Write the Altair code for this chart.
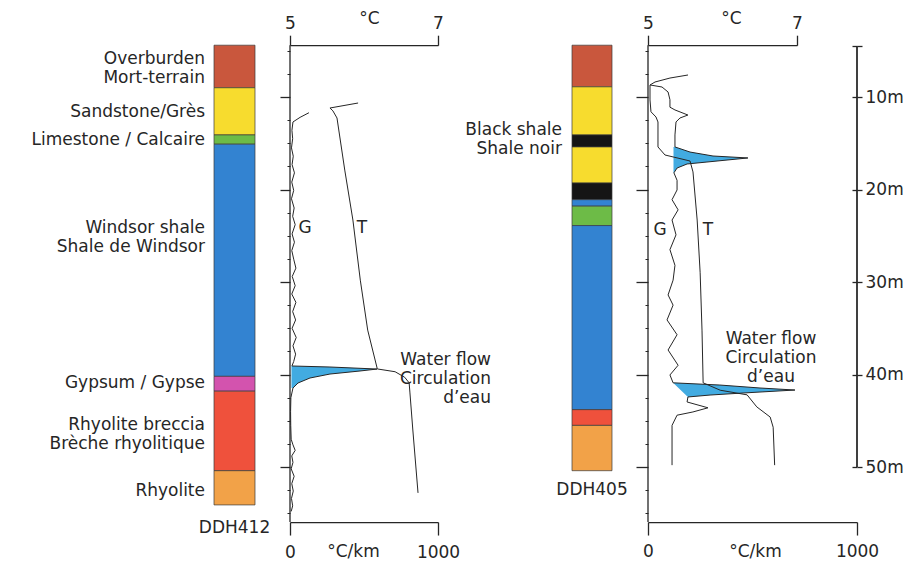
import altair as alt
import pandas as pd

W, H = 921, 562
FONT = "DejaVu Sans"
INK = "#262626"
FS = 17
BLUE = "#38a6df"

# ---------------- depth scale (m) shared by all layers ----------------
Y_DOMAIN = [0, 60]
Y_RANGE = [4.5, 559.5]
PANEL_TOP = 4.4
PANEL_BOTTOM = 55.95
MAJOR = [10, 20, 30, 40, 50]
MINOR = [5, 7.5, 12.5, 15, 17.5, 22.5, 25, 27.5, 32.5, 35, 37.5, 42.5, 45, 47.5, 52.5, 55]
SCALE_TOP = 4.5
SCALE_BOTTOM = 50

# ---------------- lithology ----------------
UNITS = ["Overburden", "Sandstone", "Limestone", "Windsor shale", "Gypsum",
         "Rhyolite breccia", "Rhyolite", "Black shale"]
UNIT_COLORS = ["#c9573d", "#f7dc2e", "#6dbb47", "#3383d1", "#d353ae",
               "#ef513c", "#f2a248", "#151515"]

L_UNIT = ["Overburden", "Sandstone", "Limestone", "Windsor shale", "Gypsum",
          "Rhyolite breccia", "Rhyolite"]
L_TOP = [4.4, 9.0, 14.1, 15.1, 40.2, 41.8, 50.4]
L_BOT = [9.0, 14.1, 15.1, 40.2, 41.8, 50.4, 54.1]

R_UNIT = ["Overburden", "Sandstone", "Black shale", "Sandstone", "Black shale",
          "Windsor shale", "Limestone", "Windsor shale", "Rhyolite breccia", "Rhyolite"]
R_TOP = [4.4, 8.9, 14.1, 15.4, 19.3, 21.1, 21.8, 23.9, 43.8, 45.5]
R_BOT = [8.9, 14.1, 15.4, 19.3, 21.1, 21.8, 23.9, 43.8, 45.5, 50.4]

# label depths are the depth of the first text line
L_LABELS = ["Overburden\nMort-terrain", "Sandstone/Grès", "Limestone / Calcaire",
            "Windsor shale\nShale de Windsor", "Gypsum / Gypse",
            "Rhyolite breccia\nBrèche rhyolitique", "Rhyolite"]
L_LABEL_DEPTH = [5.9, 11.6, 14.65, 24.15, 40.9, 45.45, 52.6]
R_LABELS = ["Black shale\nShale noir"]
R_LABEL_DEPTH = [13.6]
WELLS = ["DDH412", "DDH405"]
WELL_LABEL_DEPTH = [56.6, 52.5]
FLOW_LABEL = "Water flow\nCirculation\nd’eau"
FLOW_DEPTH = [38.45, 36.15]
GT_LABEL_DEPTH = [24.2, 24.4]

# ---------------- DDH412 profiles ----------------
LT_DEPTH = [10.65, 11.19, 11.5, 12.27, 17.9, 23.3, 29.8, 35.2, 39.4, 39.7, 40.3, 40.9, 41.9, 46.0, 52.8]
LT_TEMP = [5.92, 5.54, 5.58, 5.635, 5.74, 5.85, 5.95, 6.05, 6.18, 6.42, 6.55, 6.61, 6.62, 6.66, 6.73]

LG_UP_DEPTH = [11.7, 12.2, 12.7, 13.6, 14.5, 15.5, 16.4, 17.3, 18.2, 19.2, 20.1, 21.0, 22.0, 22.9,
               23.8, 24.8, 25.7, 26.6, 27.6, 28.5, 29.4, 30.4, 31.3, 32.2, 33.2, 34.1, 35.0, 36.0,
               36.9, 37.8, 38.6]
LG_UP_GRAD = [128, 68, 20, 13, 18, 10, 22, 14, 30, 12, 25, 10, 28, 18,
              35, 14, 30, 12, 26, 40, 15, 35, 12, 40, 18, 38, 14, 42,
              20, 38, 25]
LG_SPIKE_DEPTH = [39.08, 39.19, 39.41, 39.62, 39.95, 40.38, 40.92, 41.46]
LG_SPIKE_GRAD = [13, 270, 588, 473, 270, 135, 54, 20]
LG_SPIKE_BASE = [10, 10, 10, 10, 10, 10, 10, 10]
LG_LOW_DEPTH = [42.5, 44.0, 45.5, 47.0, 47.6, 48.2, 48.8, 49.5, 50.2, 51.0, 51.8, 52.6, 53.4, 54.2, 54.8]
LG_LOW_GRAD = [6, 4, 5, 8, 20, 35, 12, 20, 8, 28, 12, 22, 10, 18, 8]

# ---------------- DDH405 profiles ----------------
RT_DEPTH = [7.62, 7.95, 8.38, 8.70, 10.32, 11.6, 12.16, 12.7, 15.4, 16.27, 16.92, 18.1, 23.3,
            29.0, 35.2, 40.9, 41.7, 42.2, 43.5, 44.6, 45.7, 49.8]
RT_TEMP = [5.537, 5.295, 5.094, 5.027, 5.027, 5.04, 5.107, 5.134, 5.134, 5.228, 5.564, 5.604, 5.66,
           5.70, 5.725, 5.74, 5.97, 6.33, 6.46, 6.64, 6.68, 6.70]

RG_UP_DEPTH = [8.70, 8.92, 9.46, 10.3, 11.1, 11.4, 11.95, 12.27, 12.7, 14.1]
RG_UP_GRAD = [10, 67, 96, 105, 105, 129, 191, 153, 134, 129]
RG_S1_DEPTH = [15.4, 15.95, 16.38, 16.59, 17.03, 17.24, 17.68, 18.2]
RG_S1_GRAD = [129, 201, 311, 478, 282, 187, 139, 124]
RG_S1_BASE = [122, 122, 122, 122, 122, 122, 122, 122]
RG_MID_DEPTH = [19.0, 20.05, 21.1, 22.2, 23.3, 24.9, 26.5, 28.2, 29.8, 31.4, 32.5, 34.1, 35.7,
                37.35, 39.0, 40.05]
RG_MID_GRAD = [139, 139, 115, 144, 115, 134, 105, 129, 120, 96, 120, 91, 139, 96, 144, 105]
RG_S2_DEPTH = [40.9, 41.14, 41.46, 41.68, 42.0, 42.22, 42.43]
RG_S2_GRAD = [120, 344, 536, 703, 455, 297, 191]
RG_S2_BASE = [120, 131, 146, 156, 171, 181, 191]
RG_LOW_DEPTH = [42.97, 43.6, 44.05, 44.4, 45.5, 49.8]
RG_LOW_GRAD = [187, 287, 215, 139, 115, 115]

# ---------------- layout (pixels) ----------------
L_COL = (214, 255)
R_COL = (572, 612)
L_AX = 290
R_AX = 648
L_T_RANGE = [290, 438]
L_G_RANGE = [290, 438]
R_T_RANGE = [648, 797]
R_G_RANGE = [648, 857]
SCALE_X = 857


def ypx(d):
    return Y_RANGE[0] + (Y_RANGE[1] - Y_RANGE[0]) * (d - Y_DOMAIN[0]) / (Y_DOMAIN[1] - Y_DOMAIN[0])


TOP_OFF = -ypx(PANEL_TOP)
BOT_OFF = ypx(PANEL_BOTTOM) - H


def ys(axis=None, field="depth"):
    return alt.Y(f"{field}:Q", scale=alt.Scale(domain=Y_DOMAIN, range=Y_RANGE, nice=False, zero=False),
                 axis=axis)


def tick_axis(orient, offset, values, size, width=1.3, labels=False):
    kw = dict(orient=orient, offset=offset, values=values, tickSize=size, tickWidth=width,
              tickColor=INK, labels=labels, domain=False, grid=False, title=None)
    if labels:
        kw.update(labelExpr="datum.value >= 10 ? datum.value + 'm' : ''", labelFont=FONT,
                  labelFontSize=FS, labelColor=INK, labelPadding=3, labelBaseline="middle")
    return alt.Axis(**kw)


def x_axis(orient, offset, values, title, title_x, title_y, tick, label_pad):
    return alt.Axis(orient=orient, offset=offset, values=values, title=title, titleX=title_x,
                    titleY=title_y, titleBaseline="alphabetic", titleAlign="center",
                    titleFont=FONT, titleFontSize=FS, titleFontWeight="normal", titleColor=INK,
                    tickSize=tick, tickWidth=1.3, tickColor=INK, domainColor=INK, domainWidth=1.3,
                    labelFont=FONT, labelFontSize=FS, labelColor=INK, labelFlush=False,
                    labelBaseline="alphabetic", labelPadding=label_pad, grid=False, format="d")


def xs(field, domain, rng, axis=None):
    return alt.X(f"{field}:Q", scale=alt.Scale(domain=domain, range=rng, nice=False, zero=False),
                 axis=axis)


color_scale = alt.Scale(domain=UNITS, range=UNIT_COLORS)


def column(units, tops, bots, xr):
    df = pd.DataFrame({"unit": units, "depth": tops, "bottom": bots})
    return alt.Chart(df).mark_rect(stroke="#3a3a3a", strokeWidth=0.7).encode(
        x=alt.value(xr[0]), x2=alt.value(xr[1]), y=ys(), y2="bottom:Q",
        color=alt.Color("unit:N", scale=color_scale, legend=None))


def text(labels, depths, x, align, size=FS):
    df = pd.DataFrame({"label": labels, "depth": depths})
    return alt.Chart(df).mark_text(align=align, baseline="middle", font=FONT, fontSize=size,
                                   color=INK, lineBreak="\n", lineHeight=19).encode(
        x=alt.value(x), y=ys(), text="label:N")


def line(depths, vals, field, domain, rng, xaxis=None, yaxis=None):
    df = pd.DataFrame({"depth": depths, field: vals, "i": list(range(len(depths)))})
    return alt.Chart(df).mark_line(color=INK, strokeWidth=1.0).encode(
        x=xs(field, domain, rng, xaxis), y=ys(yaxis), order="i:Q")


def area(depths, vals, base, rng):
    df = pd.DataFrame({"depth": depths, "g": vals, "base": base})
    return alt.Chart(df).mark_area(orient="horizontal", color=BLUE, opacity=0.95).encode(
        x=xs("g", [0, 1000], rng), x2="base:Q", y=ys())


def vrule(x, top, bottom, yaxis=None):
    df = pd.DataFrame({"depth": [top], "bottom": [bottom]})
    return alt.Chart(df).mark_rule(color=INK, strokeWidth=1.3).encode(
        x=alt.value(x), y=ys(yaxis), y2="bottom:Q")


layers = [
    column(L_UNIT, L_TOP, L_BOT, L_COL),
    column(R_UNIT, R_TOP, R_BOT, R_COL),
    text(L_LABELS, L_LABEL_DEPTH, 205, "right"),
    text(R_LABELS, R_LABEL_DEPTH, 562, "right"),
    text([WELLS[0]], [WELL_LABEL_DEPTH[0]], sum(L_COL) / 2, "center"),
    text([WELLS[1]], [WELL_LABEL_DEPTH[1]], sum(R_COL) / 2, "center"),
    text([FLOW_LABEL], [FLOW_DEPTH[0]], 491, "right"),
    text([FLOW_LABEL], [FLOW_DEPTH[1]], 771, "center"),
    text(["G"], [GT_LABEL_DEPTH[0]], 305, "center"),
    text(["T"], [GT_LABEL_DEPTH[0]], 362, "center"),
    text(["G"], [GT_LABEL_DEPTH[1]], 660, "center"),
    text(["T"], [GT_LABEL_DEPTH[1]], 708, "center"),
    # blue water-flow anomalies
    area(LG_SPIKE_DEPTH, LG_SPIKE_GRAD, LG_SPIKE_BASE, L_G_RANGE),
    area(RG_S1_DEPTH, RG_S1_GRAD, RG_S1_BASE, R_G_RANGE),
    area(RG_S2_DEPTH, RG_S2_GRAD, RG_S2_BASE, R_G_RANGE),
    # DDH412 curves
    line(LT_DEPTH, LT_TEMP, "temp", [5, 7], L_T_RANGE,
         x_axis("top", TOP_OFF, [5, 7], "°C", 369, -22, 10, 7),
         tick_axis("left", -L_AX, MAJOR, 10)),
    line(LG_UP_DEPTH + LG_SPIKE_DEPTH + LG_LOW_DEPTH, LG_UP_GRAD + LG_SPIKE_GRAD + LG_LOW_GRAD,
         "g", [0, 1000], L_G_RANGE,
         x_axis("bottom", BOT_OFF, [0, 1000], "°C/km", 353, 34, 13, 22),
         tick_axis("left", -L_AX, MINOR, 3, 1.0)),
    # DDH405 curves
    line(RT_DEPTH, RT_TEMP, "temp", [5, 7], R_T_RANGE,
         x_axis("top", TOP_OFF, [5, 7], "°C", 731, -22, 10, 7),
         tick_axis("left", -R_AX, MAJOR, 12)),
    line(RG_UP_DEPTH + RG_S1_DEPTH + RG_MID_DEPTH + RG_S2_DEPTH + RG_LOW_DEPTH,
         RG_UP_GRAD + RG_S1_GRAD + RG_MID_GRAD + RG_S2_GRAD + RG_LOW_GRAD,
         "g", [0, 1000], R_G_RANGE,
         x_axis("bottom", BOT_OFF, [0, 1000], "°C/km", 755, 34, 13, 21),
         tick_axis("left", -R_AX, MINOR, 3, 1.0)),
    # panel vertical axes
    vrule(L_AX, PANEL_TOP, PANEL_BOTTOM),
    vrule(R_AX, PANEL_TOP, PANEL_BOTTOM),
    # depth scale at right
    vrule(SCALE_X, SCALE_TOP, SCALE_BOTTOM,
          tick_axis("right", SCALE_X - W, [SCALE_TOP] + MAJOR, 5, 1.3, labels=True)),
    vrule(SCALE_X, SCALE_TOP, SCALE_BOTTOM,
          tick_axis("left", -SCALE_X, [SCALE_TOP] + MAJOR, 5, 1.3)),
]

chart = alt.layer(*layers).resolve_scale(x="independent", y="independent").properties(
    width=W, height=H, autosize=alt.AutoSizeParams(type="none"), padding=0,
    background="white"
).configure_view(stroke=None)

chart.save("out.html", embed_options={"renderer": "svg", "actions": False})
